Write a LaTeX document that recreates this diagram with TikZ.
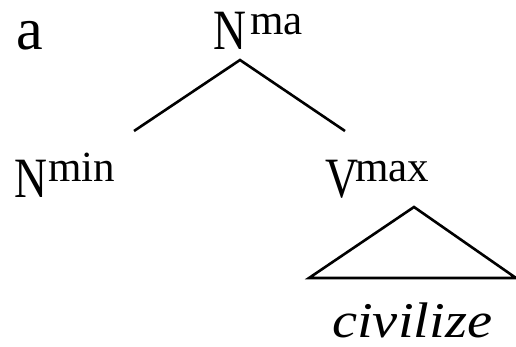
\documentclass[tikz,border=0pt]{standalone}
\usepackage{fontspec}
\setmainfont{Liberation Serif}
\newfontfamily\catfont[FakeStretch=0.8]{Liberation Serif}
\newfontfamily\itfont[FakeStretch=1.13]{Liberation Serif Italic}
\begin{document}
\begin{tikzpicture}[x=1pt,y=-1pt,
  cat/.style={inner sep=0pt,anchor=base west,font=\catfont\fontsize{57}{60}\selectfont},
  sup/.style={inner sep=0pt,anchor=base west,font=\fontsize{43}{46}\selectfont},
  lbl/.style={inner sep=0pt,anchor=base west,font=\fontsize{60}{64}\selectfont},
  word/.style={inner sep=0pt,anchor=base west,font=\itfont\fontsize{50}{54}\selectfont},
  branch/.style={line width=2.6pt,line join=miter}]
\useasboundingbox (0,0) rectangle (516,347);
\node[lbl] (lab) at (16,50) {a};
\node[cat] (top) at (213,50) {N};
\node[sup] (topsup) at (250,35) {ma};
\node[cat] (left) at (14,198) {N};
\node[sup] (leftsup) at (48,182) {min};
\node[cat] (right) at (325,198) {V};
\node[sup] (rightsup) at (355,182) {max};
\node[word] (civ) at (332,337) {civilize};
\coordinate (apex) at (240,60);
\coordinate (lend) at (134,131);
\coordinate (rend) at (345,131);
\coordinate (tapex) at (414,207);
\coordinate (tl) at (309,278);
\coordinate (tr) at (516,278);
\draw[branch] (lend) -- (apex) -- (rend);
\draw[branch] (tl) -- (tapex) -- (tr) -- cycle;
\end{tikzpicture}
\end{document}
